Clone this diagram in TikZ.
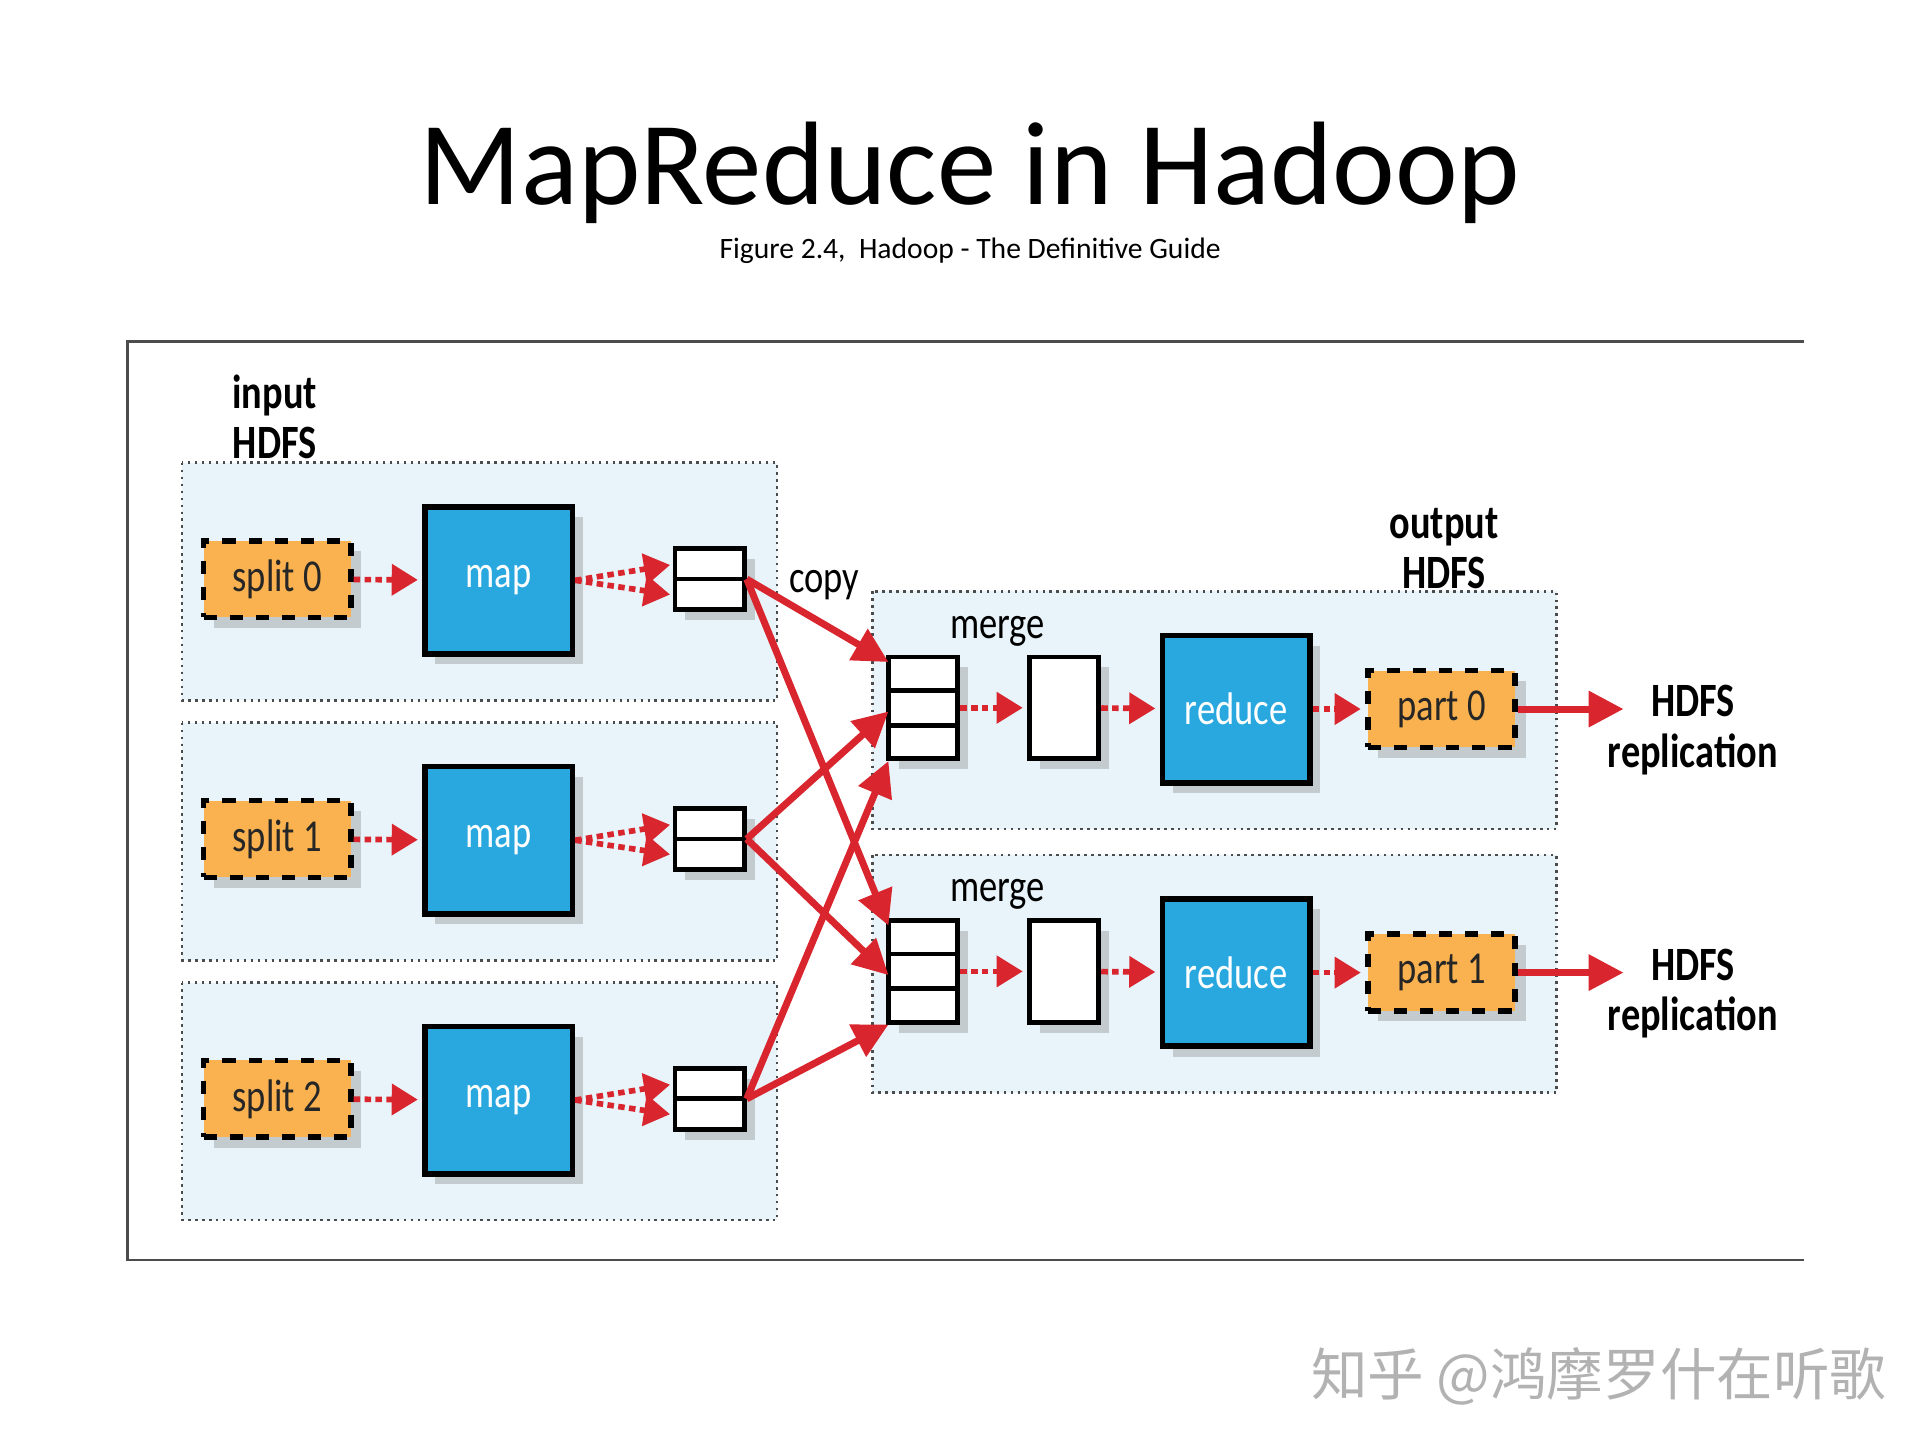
\documentclass[tikz,border=0pt]{standalone}
\usepackage{fontspec}
\setmainfont{Carlito}
\newfontfamily\cond[FakeStretch=0.8]{Carlito}
\newfontfamily\cjk{Noto Sans CJK SC}
\usetikzlibrary{shadows,arrows.meta}
\definecolor{rd}{HTML}{D9262E}
\definecolor{bl}{HTML}{29A8E0}
\definecolor{org}{HTML}{F9B24F}
\definecolor{bgb}{HTML}{E8F4FA}
\tikzset{
 lab/.style={font=\cond\fontsize{10.5}{10}\selectfont},
 blab/.style={font=\cond\fontsize{11}{11.5}\selectfont\bfseries, align=center},
 grp/.style={draw=black!70, densely dotted, fill=bgb, line width=0.6pt},
 split/.style={draw=black, dashed, line width=1.3pt, fill=org, minimum width=1.19cm, minimum height=0.62cm, text=black!85, font=\cond\fontsize{10.5}{10}\selectfont, drop shadow={opacity=0.35}},
 proc/.style={draw=black, line width=1.3pt, fill=bl, minimum width=1.19cm, minimum height=1.19cm, text=white, font=\cond\fontsize{10.5}{10}\selectfont, drop shadow={opacity=0.35}},
 buf/.style={draw=black, line width=1.1pt, fill=white, minimum width=0.56cm, drop shadow={opacity=0.35}},
 dar/.style={draw=rd, line width=1.3pt, dash pattern=on 1.5pt off 1pt, -{Triangle[length=6pt,width=7pt]}, shorten >=1pt},
 car/.style={draw=rd, line width=1.6pt, -{Triangle[length=8pt,width=8pt]}},
}
\begin{document}
\begin{tikzpicture}[x=0.01cm,y=-0.01cm]
\useasboundingbox (0,0) rectangle (1550,1164);
\node[font=\fontsize{27.3}{28}\selectfont] (t) at (784,140) {MapReduce in Hadoop};
\node[font=\fontsize{6.8}{8}\selectfont] (st) at (784,203) {Figure 2.4,\ \ Hadoop - The Definitive Guide};
\draw[line width=0.5pt, black!70] (1458,276) -- (103,276) -- (103,1018) -- (1458,1018);
\node[blab] (ih) at (222,337) {input\\HDFS};
\node[blab] (oh) at (1167,443) {output\\HDFS};
\node[lab] (so) at (506,420) {sort};
\node[lab] (co) at (666,473) {copy};
\foreach \i/\yo in {0/0,1/210,2/420}{
  \draw[grp] (147,374+\yo) rectangle (628,566+\yo);
  \node[split] (s\i) at (224,468+\yo) {split \i};
  \node[proc] (m\i) at (403,469+\yo) {map};
  \node[buf, minimum height=0.49cm] (b\i) at (573.5,468+\yo) {};
  \draw[line width=1.1pt] (b\i.west) -- (b\i.east);
  \coordinate (b\i t) at (545,456+\yo);
  \coordinate (b\i b) at (545,481+\yo);
  \draw[dar] (s\i) -- (m\i);
  \draw[dar] (m\i.east) -- (b\i t);
  \draw[dar] (m\i.east) -- (b\i b);
}
\foreach \j/\yo in {0/0,1/213}{
  \draw[grp] (705,478+\yo) rectangle (1258,670+\yo);
  \node[lab] (ml\j) at (806,510+\yo) {merge};
  \node[buf, minimum height=0.82cm] (g\j) at (746,572+\yo) {};
  \draw[line width=1.1pt] (718,558+\yo) -- (774,558+\yo) (718,586+\yo) -- (774,586+\yo);
  \node[buf, minimum height=0.82cm] (w\j) at (860,572+\yo) {};
  \node[proc] (r\j) at (999,573+\yo) {reduce};
  \node[split] (p\j) at (1165,573+\yo) {part \j};
  \node[blab, anchor=west] (h\j) at (1287,590+\yo) {HDFS\\replication};
  \coordinate (ht\j) at (1312,573+\yo);
  \draw[dar] (g\j) -- (w\j);
  \draw[dar] (w\j) -- (r\j);
  \draw[dar] (r\j) -- (p\j);
  \draw[car] (p\j.east) -- (ht\j);
  \coordinate (i\j a) at (718,535+\yo);
  \coordinate (i\j b) at (718,575+\yo);
  \coordinate (i\j c) at (718,615+\yo);
}
\draw[car] (b0.east) -- (i0a);
\draw[car] (b0.east) -- (i1a);
\draw[car] (b1.east) -- (i0b);
\draw[car] (b1.east) -- (i1b);
\draw[car] (b2.east) -- (i0c);
\draw[car] (b2.east) -- (i1c);
\node[text=black!30, font=\cjk\fontsize{13}{14}\selectfont] (wm) at (1292,1112) {知乎 @鸿摩罗什在听歌};
\end{tikzpicture}
\end{document}
